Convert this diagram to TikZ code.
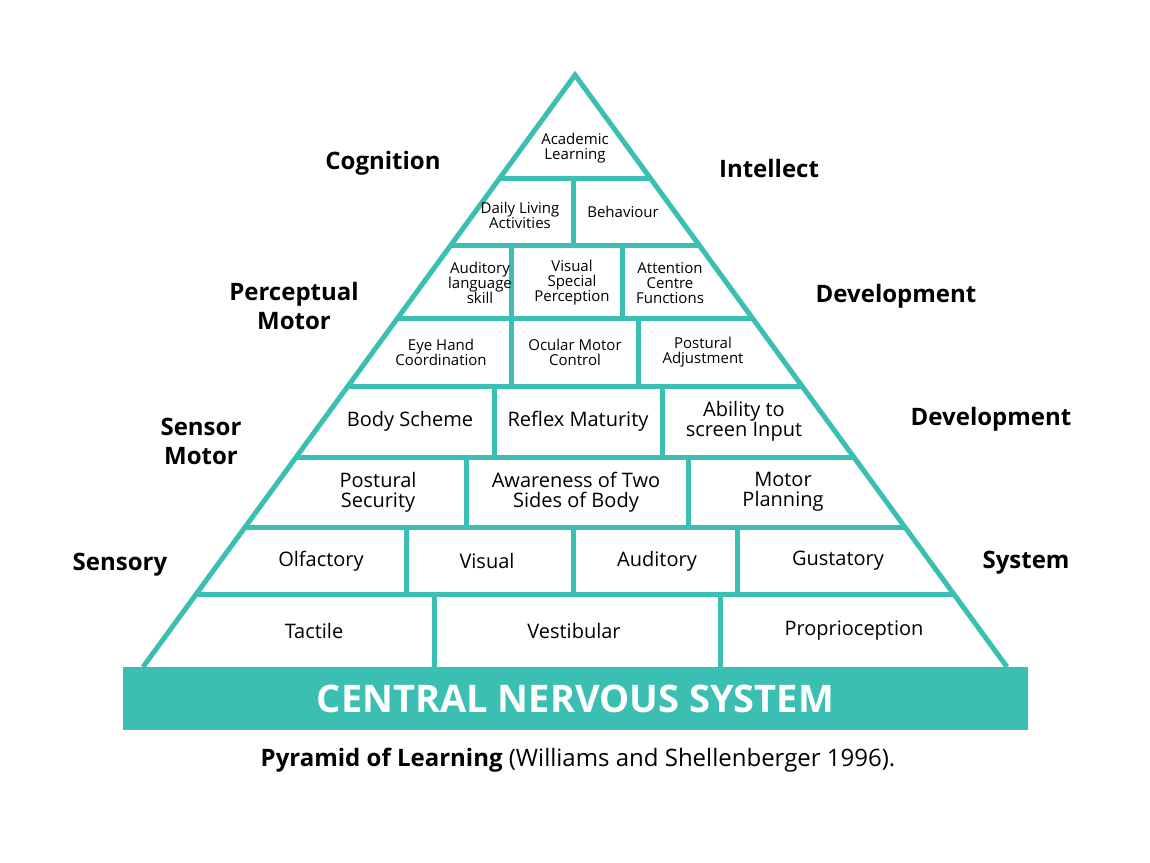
\documentclass[tikz,border=0pt]{standalone}
\usepackage{fontspec}
\setmainfont{Open Sans}
\definecolor{teal1}{HTML}{3BBFB3}
\begin{document}
\begin{tikzpicture}[x=1pt,y=-1pt,
  ln/.style={draw=teal1,line width=5pt},
  cell/.style={align=center,font=\fontsize{#1}{#1}\selectfont,inner sep=0pt},
  cell/.default=20,
  side/.style={align=center,font=\fontsize{24}{29}\selectfont\bfseries,inner sep=0pt}]
\useasboundingbox (0,0) rectangle (1150,862);
\fill[white] (0,0) rectangle (1150,862);
% outline points
\coordinate (A) at (575,75);
\coordinate (BL) at (143,667); \coordinate (BR) at (1007,667);
\foreach \n/\y/\l/\r in {a/178/499.8/650.2,b/245/450.9/699.1,c/318/397.7/752.3,d/386/348.1/801.9,e/457/296.2/853.8,f/527/245.2/904.8,g/594/196.3/953.7}{
  \coordinate (L\n) at (\l,\y); \coordinate (R\n) at (\r,\y);}
\draw[ln,line join=miter] (BL) -- (A) -- (BR);
\foreach \n in {a,b,c,d,e,f,g} \draw[ln] (L\n) -- (R\n);
% verticals
\foreach \x/\t/\b in {573/178/245, 511/245/318, 622/245/318, 511/318/386, 638/318/386, 494/386/457, 662/386/457, 466/457/527, 688/457/527, 406/527/594, 573/527/594, 737/527/594, 434/594/667, 720/594/667}
  \draw[ln] (\x,\t) coordinate (vt) -- (\x,\b) coordinate (vb);
% CNS bar
\node[fill=teal1,minimum width=905pt,minimum height=63pt,inner sep=0pt,text=white,font=\fontsize{38}{38}\selectfont\bfseries] (cns) at (575.5,698.5) {CENTRAL NERVOUS SYSTEM};
% cells
\node[cell=15] (c1) at (575,148) {Academic\\Learning};
\node[cell=15] (c2) at (520,215) {Daily Living\\Activities};
\node[cell=15] (c3) at (623,212) {Behaviour};
\node[cell=15] (c4) at (480,283) {Auditory\\language\\skill};
\node[cell=15] (c5) at (572,283) {Visual\\Special\\Perception};
\node[cell=15] (c6) at (670,283) {Attention\\Centre\\Functions};
\node[cell=15] (c7) at (441,352) {Eye Hand\\Coordination};
\node[cell=15] (c8) at (575,352) {Ocular Motor\\Control};
\node[cell=15] (c9) at (703,352) {Postural\\Adjustment};
\node[cell] (c10) at (410,421) {Body Scheme};
\node[cell] (c11) at (578,421) {Reflex Maturity};
\node[cell] (c12) at (744,421) {Ability to\\screen Input};
\node[cell] (c13) at (378,492) {Postural\\Security};
\node[cell] (c14) at (576,492) {Awareness of Two\\Sides of Body};
\node[cell] (c15) at (783,492) {Motor\\Planning};
\node[cell] (c16) at (321,561) {Olfactory};
\node[cell] (c17) at (487,561) {Visual};
\node[cell] (c18) at (657,561) {Auditory};
\node[cell] (c19) at (838,561) {Gustatory};
\node[cell] (c20) at (314,631) {Tactile};
\node[cell] (c21) at (574,631) {Vestibular};
\node[cell] (c22) at (854,631) {Proprioception};
% side labels
\node[side] (s1) at (383,163) {Cognition};
\node[side] (s2) at (769,168) {Intellect};
\node[side] (s3) at (294,306) {Perceptual\\Motor};
\node[side] (s4) at (896,296) {Development};
\node[side] (s5) at (201,441) {Sensor\\Motor};
\node[side] (s6) at (991,419) {Development};
\node[side] (s7) at (120,565) {Sensory};
\node[side] (s8) at (1026,563) {System};
% caption
\node[inner sep=0pt,font=\fontsize{24}{24}\selectfont] (cap) at (578,760) {\textbf{Pyramid of Learning} (Williams and Shellenberger 1996).};
\end{tikzpicture}
\end{document}
